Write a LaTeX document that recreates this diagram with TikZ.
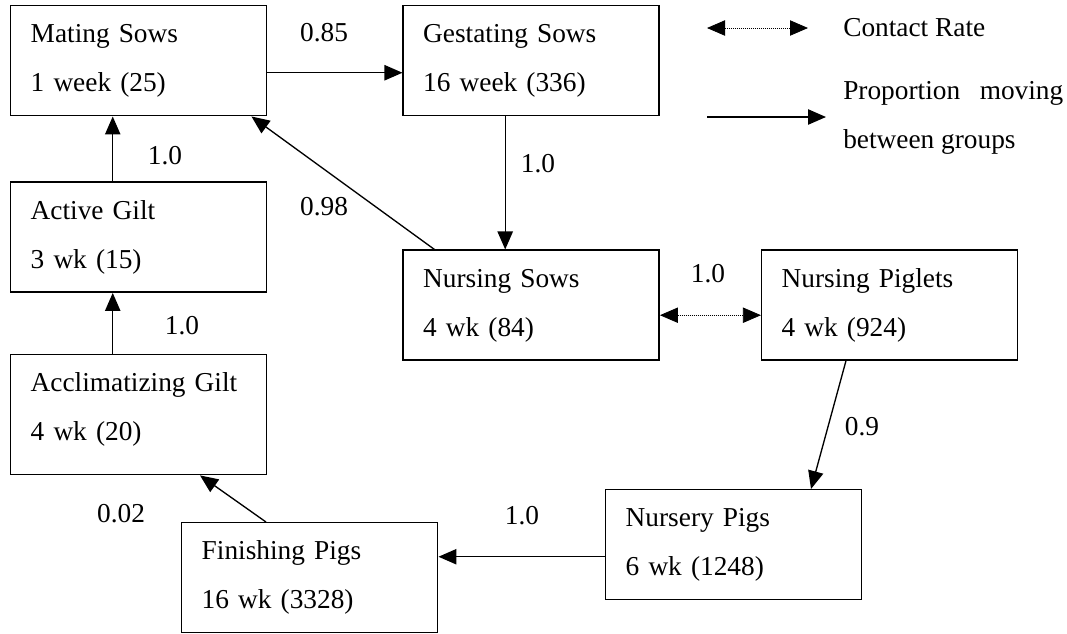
\documentclass[tikz,border=0pt]{standalone}
\usepackage{fontspec}
\setmainfont{Liberation Serif}
\usetikzlibrary{positioning,arrows.meta}

\begin{document}
\begin{tikzpicture}[x=0.75pt, y=-0.75pt,
        font=\fontsize{20.5}{36.75}\selectfont,
        box/.style={draw, line width=1.1pt, text width=162pt, align=left,
            inner xsep=15pt, inner ysep=0pt, text height=27.75pt, text depth=54.75pt},
        tallbox/.style={box, text depth=62.25pt},
        flow/.style={line width=1pt, -{Triangle[length=13.5pt,width=11.5pt]}},
        contact/.style={line width=0.6pt, dash pattern=on 0.6pt off 0.9pt,
            {Triangle[length=13.5pt,width=11.5pt]}-{Triangle[length=13.5pt,width=11.5pt]}}]
        \useasboundingbox (0,0) rectangle (1067,633);
        \node [box, anchor=north west] (mat) at (10,5) {Mating Sows\\1 week (25)};
        \node [box, right=101.25pt of mat] (gest) {Gestating Sows\\16 week (336)};
        \node [box, below=48.75pt of mat] (agilt) {Active Gilt\\3 wk (15)};
        \node [tallbox, below=45.75pt of agilt] (cgilt) {Acclimatizing Gilt\\4 wk (20)};
        \node [box, below=99.75pt of gest] (nsow) {Nursing Sows\\4 wk (84)};
        \node [box, right=75.75pt of nsow] (npig) {Nursing Piglets\\4 wk (924)};
        \node [box, anchor=north west] (nurs) at (605,489) {Nursery Pigs\\6 wk (1248)};
        \node [box, anchor=north west] (fin) at (181,522) {Finishing Pigs\\16 wk (3328)};
        \coordinate (nf) at ([yshift=-9pt]nurs.west);
        \coordinate (c1) at (707,28);
        \coordinate (c2) at (808,28);
        \coordinate (p1) at (707,117);
        \coordinate (p2) at (826,117);
        \draw [flow] ([yshift=-9pt]mat.east) -- ([yshift=-9pt]gest.west);
        \draw [flow] ([xshift=-19.5pt]agilt.north) -- ([xshift=-19.5pt]mat.south);
        \draw [flow] ([xshift=-19.5pt]cgilt.north) -- ([xshift=-19.5pt]agilt.south);
        \draw [flow] ([xshift=-19.5pt]gest.south) -- ([xshift=-19.5pt]nsow.north);
        \draw [flow] ([xshift=24pt]nsow.north west) -- ([xshift=-12pt]mat.south east);
        \draw [contact] ([yshift=-7.5pt]nsow.east) -- ([yshift=-7.5pt]npig.west);
        \draw [flow] ([xshift=63.75pt]npig.south west) -- ([xshift=154.5pt]nurs.north west);
        \draw [flow] (nf) -- (nf -| fin.east);
        \draw [flow] ([xshift=63.75pt]fin.north west) -- ([xshift=142.5pt]cgilt.south west);
        \node (lmg) at (324,33) {0.85};
        \node (lam) at (165,156) {1.0};
        \node (lnm) at (324,207) {0.98};
        \node (lgn) at (538,164) {1.0};
        \node (lnn) at (708,274) {1.0};
        \node (lca) at (182,326) {1.0};
        \node (lpn) at (862,427) {0.9};
        \node (lnf) at (522,516) {1.0};
        \node (lfc) at (121,514) {0.02};
        \draw [contact] (c1) -- (c2);
        \draw [flow] (p1) -- (p2);
        \node [anchor=west, inner sep=0pt] (ctxt) at (843,28) {Contact Rate};
        \node [anchor=base west, inner sep=0pt, text width=165pt, align=justify] (ptxt)
            at (843,99.5) {Proportion moving between groups};
\end{tikzpicture}
\end{document}
